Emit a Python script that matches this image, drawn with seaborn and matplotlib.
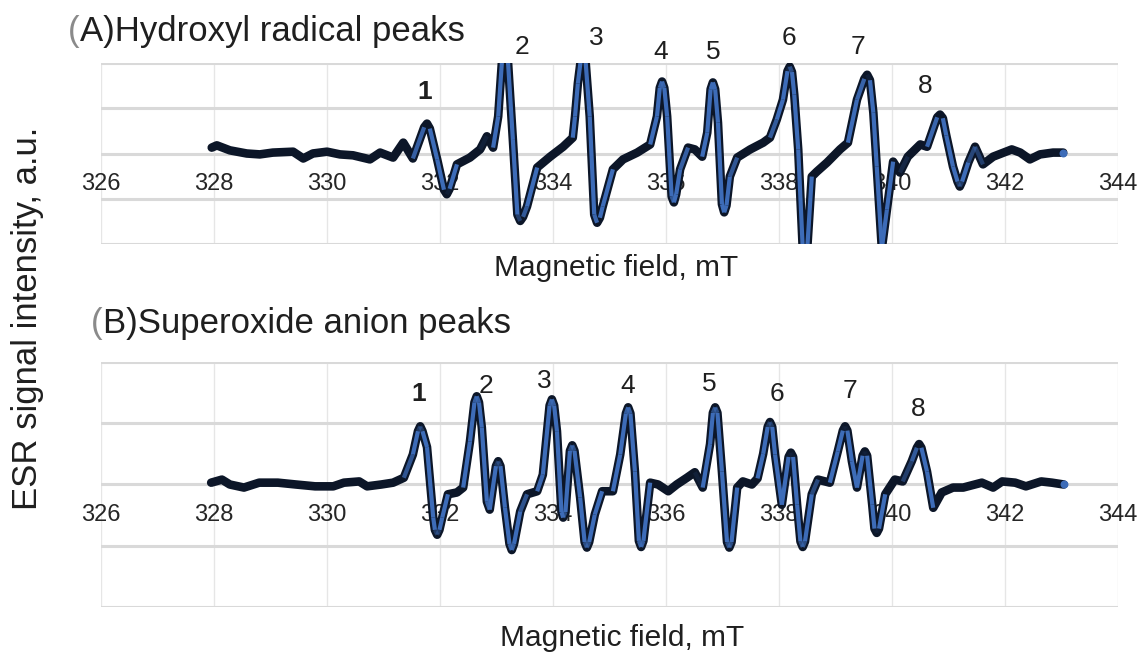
import numpy as np
import matplotlib
matplotlib.use("Agg")
import matplotlib.pyplot as plt
from matplotlib.collections import LineCollection
import seaborn as sns

# ---- ESR spectra (magnetic field in mT, intensity in a.u.) ----
hydroxyl_field = [
    327.96, 328.05, 328.28, 328.58, 328.81, 329.04, 329.40, 329.58, 329.75, 330.00,
    330.23, 330.46, 330.76, 330.94, 331.17, 331.35, 331.52, 331.72, 331.77, 331.82,
    331.95, 332.07, 332.12, 332.17, 332.30, 332.53, 332.71, 332.83, 332.94, 333.03,
    333.10, 333.15, 333.20, 333.29, 333.37, 333.42, 333.47, 333.54, 333.72, 333.95,
    334.18, 334.35, 334.39, 334.44, 334.50, 334.57, 334.65, 334.73, 334.78, 334.83,
    334.88, 335.06, 335.24, 335.49, 335.72, 335.84, 335.89, 335.93, 335.97, 336.02,
    336.10, 336.14, 336.18, 336.25, 336.39, 336.51, 336.64, 336.73, 336.79, 336.83,
    336.87, 336.92, 336.99, 337.03, 337.07, 337.13, 337.26, 337.49, 337.72, 337.84,
    337.96, 338.07, 338.15, 338.19, 338.23, 338.27, 338.34, 338.42, 338.50, 338.58,
    338.67, 338.85, 339.08, 339.22, 339.38, 339.51, 339.56, 339.61, 339.67, 339.73,
    339.82, 339.91, 340.02, 340.14, 340.28, 340.50, 340.62, 340.80, 340.85, 340.90,
    340.96, 341.08, 341.16, 341.20, 341.24, 341.35, 341.47, 341.61, 341.79, 342.12,
    342.27, 342.44, 342.62, 342.85, 343.03,
]
hydroxyl_signal = [
    0.13, 0.18, 0.07, 0.00, -0.02, 0.02, 0.04, -0.11, 0.00, 0.04,
    -0.02, -0.04, -0.13, 0.02, -0.09, 0.24, -0.11, 0.58, 0.66, 0.55,
    -0.13, -0.80, -0.90, -0.78, -0.24, -0.09, 0.09, 0.38, 0.13, 0.82,
    2.10, 2.20, 2.10, 0.30, -1.35, -1.49, -1.40, -1.17, -0.31, -0.07,
    0.15, 0.35, 0.82, 1.55, 2.15, 2.15, 0.82, -1.35, -1.53, -1.42,
    -1.17, -0.35, -0.13, 0.02, 0.20, 0.82, 1.45, 1.59, 1.45, 0.82,
    -0.95, -1.08, -0.90, -0.35, 0.13, 0.09, -0.07, 0.46, 1.42, 1.57,
    1.42, 0.68, -1.12, -1.30, -1.15, -0.51, -0.09, 0.09, 0.24, 0.35,
    0.75, 1.19, 1.82, 1.92, 1.80, 1.30, 0.09, -2.10, -2.10, -0.51,
    -0.40, -0.20, 0.09, 0.24, 1.19, 1.65, 1.74, 1.62, 0.90, -0.29,
    -2.10, -1.24, -0.18, -0.42, -0.07, 0.20, 0.15, 0.80, 0.86, 0.78,
    0.40, -0.29, -0.62, -0.73, -0.62, -0.20, 0.15, -0.24, -0.07, 0.09,
    0.02, -0.13, -0.02, 0.02, 0.02,
]

superoxide_field = [
    327.95, 328.14, 328.28, 328.53, 328.80, 329.13, 329.45, 329.79, 330.11, 330.30,
    330.57, 330.71, 330.96, 331.17, 331.36, 331.52, 331.61, 331.65, 331.69, 331.77,
    331.88, 331.91, 331.95, 331.99, 332.04, 332.14, 332.30, 332.41, 332.53, 332.61,
    332.65, 332.69, 332.74, 332.83, 332.88, 332.99, 333.03, 333.07, 333.15, 333.23,
    333.27, 333.31, 333.42, 333.54, 333.72, 333.82, 333.94, 333.98, 334.02, 334.07,
    334.15, 334.18, 334.22, 334.30, 334.34, 334.38, 334.48, 334.56, 334.60, 334.64,
    334.74, 334.87, 335.06, 335.19, 335.29, 335.33, 335.37, 335.45, 335.52, 335.56,
    335.60, 335.72, 335.86, 336.04, 336.19, 336.37, 336.51, 336.65, 336.78, 336.83,
    336.87, 336.91, 336.99, 337.08, 337.12, 337.16, 337.26, 337.36, 337.52, 337.62,
    337.72, 337.80, 337.84, 337.88, 337.93, 338.05, 338.17, 338.21, 338.25, 338.32,
    338.38, 338.42, 338.46, 338.58, 338.69, 338.90, 339.04, 339.13, 339.17, 339.21,
    339.29, 339.38, 339.48, 339.52, 339.56, 339.65, 339.69, 339.73, 339.77, 339.88,
    340.05, 340.19, 340.35, 340.44, 340.48, 340.52, 340.62, 340.73, 340.88, 341.08,
    341.26, 341.59, 341.79, 341.95, 342.18, 342.37, 342.64, 342.83, 343.04,
]
superoxide_signal = [
    0.03, 0.08, 0.00, -0.05, 0.03, 0.03, 0.00, -0.03, -0.03, 0.03,
    0.05, -0.03, 0.00, 0.03, 0.11, 0.49, 0.87, 0.95, 0.87, 0.61,
    -0.54, -0.74, -0.82, -0.74, -0.54, -0.16, -0.13, -0.05, 0.70, 1.34,
    1.44, 1.34, 0.93, -0.28, -0.41, 0.30, 0.38, 0.30, -0.38, -0.97,
    -1.07, -0.97, -0.44, -0.16, -0.11, 0.16, 1.29, 1.39, 1.29, 0.87,
    -0.45, -0.54, -0.45, 0.55, 0.64, 0.55, -0.21, -0.94, -1.03, -0.94,
    -0.49, -0.11, -0.11, 0.49, 1.16, 1.26, 1.16, 0.21, -0.92, -1.02,
    -0.92, 0.03, 0.00, -0.11, 0.00, 0.11, 0.20, -0.05, 0.66, 1.17,
    1.26, 1.17, 0.21, -0.94, -1.03, -0.94, -0.05, 0.05, 0.00, 0.10,
    0.50, 0.94, 1.02, 0.94, 0.49, -0.33, 0.45, 0.52, 0.45, -0.33,
    -0.93, -1.02, -0.93, -0.16, 0.08, 0.03, 0.54, 0.88, 0.95, 0.88,
    0.38, -0.05, 0.47, 0.54, 0.47, -0.33, -0.72, -0.79, -0.72, -0.16,
    0.08, 0.05, 0.38, 0.60, 0.66, 0.60, 0.21, -0.38, -0.13, -0.05,
    -0.05, 0.03, -0.05, 0.05, 0.03, -0.03, 0.05, 0.03, 0.00,
]

# peak numbering and where each number sits
hydroxyl_peak_labels = ["1", "2", "3", "4", "5", "6", "7", "8"]
hydroxyl_peak_x = [331.73, 333.45, 334.76, 335.91, 336.83, 338.18, 339.40, 340.58]
hydroxyl_peak_y = [1.35, 2.36, 2.56, 2.25, 2.25, 2.56, 2.36, 1.50]

superoxide_peak_labels = ["1", "2", "3", "4", "5", "6", "7", "8"]
superoxide_peak_x = [331.63, 332.81, 333.84, 335.33, 336.76, 337.96, 339.26, 340.46]
superoxide_peak_y = [1.48, 1.61, 1.69, 1.61, 1.64, 1.48, 1.52, 1.23]

field_ticks = list(range(326, 345, 2))
intensity_grid = [-2, -1, 0, 1, 2]

# ---- style ----
sns.set_theme(style="white")
plt.rcParams["font.family"] = ["Liberation Sans", "DejaVu Sans"]

TEXT = "#1f1f1f"
TRACE_DARK = "#0c1628"
TRACE_BLUE = "#3d6cb8"

W, H = 1144, 654
fig = plt.figure(figsize=(W / 100, H / 100), dpi=100)
ax_top = fig.add_axes([101 / W, 1 - 244 / H, 1017 / W, 181 / H])
ax_bot = fig.add_axes([101 / W, 1 - 607 / H, 1017 / W, 245 / H])


def style_axes(ax):
    ax.set_xlim(326, 344)
    ax.set_ylim(-2, 2)
    ax.set_xticks(field_ticks)
    ax.set_xticklabels([str(t) for t in field_ticks])
    ax.set_yticks(intensity_grid)
    ax.set_yticklabels([])
    ax.set_axisbelow(True)
    ax.grid(False)
    ax.yaxis.grid(True, color="#d9d9d9", lw=2.2)
    ax.xaxis.grid(True, color="#e6e6e6", lw=1.0)
    for s in ax.spines.values():
        s.set_visible(False)
    ax.spines["bottom"].set_position(("data", 0))
    ax.tick_params(axis="x", length=0, pad=14, labelsize=17, labelcolor="#262626")
    ax.tick_params(axis="y", length=0)
    ax.set_xlabel("")
    ax.set_ylabel("")
    ax.set_facecolor("white")


def draw_trace(ax, x, y):
    sns.lineplot(x=x, y=y, ax=ax, color=TRACE_DARK, lw=6.2, sort=False,
                 estimator=None, solid_joinstyle="round",
                 solid_capstyle="round", legend=False)
    # steep flanks show a blue core
    pts = ax.transData.transform(np.column_stack([x, y]))
    d = np.diff(pts, axis=0)
    steep = np.abs(d[:, 1]) / np.hypot(d[:, 0], d[:, 1])
    alpha = np.clip((steep - 0.88) / 0.07, 0, 1)
    rgba = np.array([matplotlib.colors.to_rgba(TRACE_BLUE, a) for a in alpha])
    segs = np.stack([np.column_stack([x[:-1], y[:-1]]),
                     np.column_stack([x[1:], y[1:]])], axis=1)
    lc = LineCollection(segs, colors=rgba, linewidths=3.0, capstyle="butt",
                        zorder=3)
    ax.add_collection(lc)
    ax.scatter([x[-1]], [y[-1]], s=22, color=TRACE_BLUE, zorder=4)


for ax, fx, sy in [(ax_top, hydroxyl_field, hydroxyl_signal),
                   (ax_bot, superoxide_field, superoxide_signal)]:
    style_axes(ax)
    draw_trace(ax, np.array(fx), np.array(sy))
    style_axes(ax)

for ax, labs, px, py in [
    (ax_top, hydroxyl_peak_labels, hydroxyl_peak_x, hydroxyl_peak_y),
    (ax_bot, superoxide_peak_labels, superoxide_peak_x, superoxide_peak_y),
]:
    for lab, x, y in zip(labs, px, py):
        ax.text(x, y, lab, ha="center", va="center", fontsize=19, color=TEXT,
                fontweight="bold" if lab == "1" else "normal", clip_on=False)


def panel_title(x, y, rest):
    t1 = fig.text(x, y, "(", fontsize=25, color="#8a8a8a", ha="left",
                  va="center")
    ax_top.annotate(rest, xy=(1, 0), xycoords=t1, ha="left", va="bottom",
                    fontsize=25, color=TEXT, annotation_clip=False)


panel_title(68 / W, 1 - 32 / H, "A)Hydroxyl radical peaks")
panel_title(91 / W, 1 - 324 / H, "B)Superoxide anion peaks")

fig.text(616 / W, 1 - 268 / H, "Magnetic field, mT", fontsize=21.5,
         color=TEXT, ha="center", va="center")
fig.text(622 / W, 1 - 638 / H, "Magnetic field, mT", fontsize=21.5,
         color=TEXT, ha="center", va="center")
fig.text(28 / W, 1 - 318 / H, "ESR signal intensity, a.u.", fontsize=25,
         color=TEXT, ha="center", va="center", rotation=90)

fig.savefig("out.png", dpi=100, facecolor="white")
